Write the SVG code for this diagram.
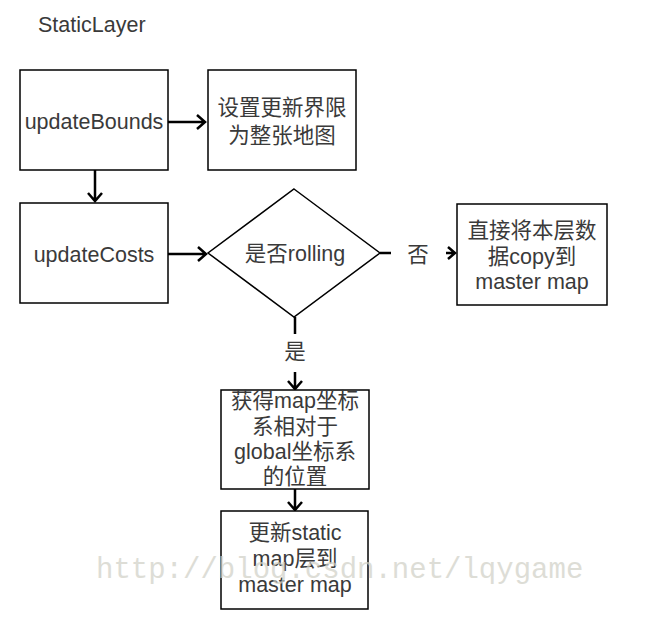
<svg xmlns="http://www.w3.org/2000/svg" width="659" height="624" viewBox="0 0 659 624">
<style>
.box{fill:#fff;stroke:#000;stroke-width:1.5}
.t{font-family:"Liberation Sans","Noto Sans CJK SC",sans-serif;font-size:21.5px;fill:#3a3a3a;text-anchor:middle;dominant-baseline:central}
.c{fill:none;stroke:#000;stroke-width:2.5}
.wm{font-family:"Liberation Mono","DejaVu Sans Mono",monospace;font-size:29px;fill:#d0d0c6;opacity:0.7}
</style>
<rect width="659" height="624" fill="#fff"/>
<text x="38" y="32" style="font-family:'Liberation Sans',sans-serif;font-size:21.5px;fill:#3a3a3a">StaticLayer</text>
<g id="connectors">
<path class="c" d="M168,122 H205 M197,115 L205,122 L197,129"/>
<path class="c" d="M95,170 V201 M88,193 L95,201 L102,193"/>
<path class="c" d="M168,254 H206 M198,247 L206,254 L198,261"/>
<path class="c" d="M380,253 H391 M446,253 H455 M448,247 L455,253 L448,259"/>
<text class="t" x="418" y="255">否</text>
<path class="c" d="M295,317 V334 M295,372 V389 M288,381 L295,389 L302,381"/>
<text class="t" x="295" y="352">是</text>
<path class="c" d="M295,489 V510 M288,502 L295,510 L302,502"/>
</g>
<g id="updateBounds">
<rect class="box" x="20" y="70" width="148" height="100"/>
<text class="t" x="94" y="122">updateBounds</text>
</g>
<g id="setBounds">
<rect class="box" x="208" y="70" width="148" height="100"/>
<text class="t" x="282" y="108">设置更新界限</text>
<text class="t" x="282" y="136">为整张地图</text>
</g>
<g id="updateCosts">
<rect class="box" x="20" y="203" width="148" height="100"/>
<text class="t" x="94" y="255">updateCosts</text>
</g>
<g id="rolling">
<polygon class="box" points="294,189 380,253 294,317 208,253"/>
<text class="t" x="295" y="254">是否rolling</text>
</g>
<g id="copyMaster">
<rect class="box" x="457" y="204" width="150" height="101"/>
<text class="t" x="532" y="231">直接将本层数</text>
<text class="t" x="532" y="257">据copy到</text>
<text class="t" x="532" y="282">master map</text>
</g>
<g id="getPose">
<rect class="box" x="221" y="390" width="148" height="99"/>
<text class="t" x="295" y="401">获得map坐标</text>
<text class="t" x="295" y="427">系相对于</text>
<text class="t" x="295" y="452">global坐标系</text>
<text class="t" x="295" y="477">的位置</text>
</g>
<g id="updateStatic">
<rect class="box" x="221" y="511" width="147" height="98"/>
<text class="t" x="295" y="533">更新static</text>
<text class="t" x="295" y="559">map层到</text>
<text class="t" x="295" y="585">master map</text>
</g>
<text class="wm" x="96" y="578">http://blog.csdn.net/lqygame</text>
</svg>
